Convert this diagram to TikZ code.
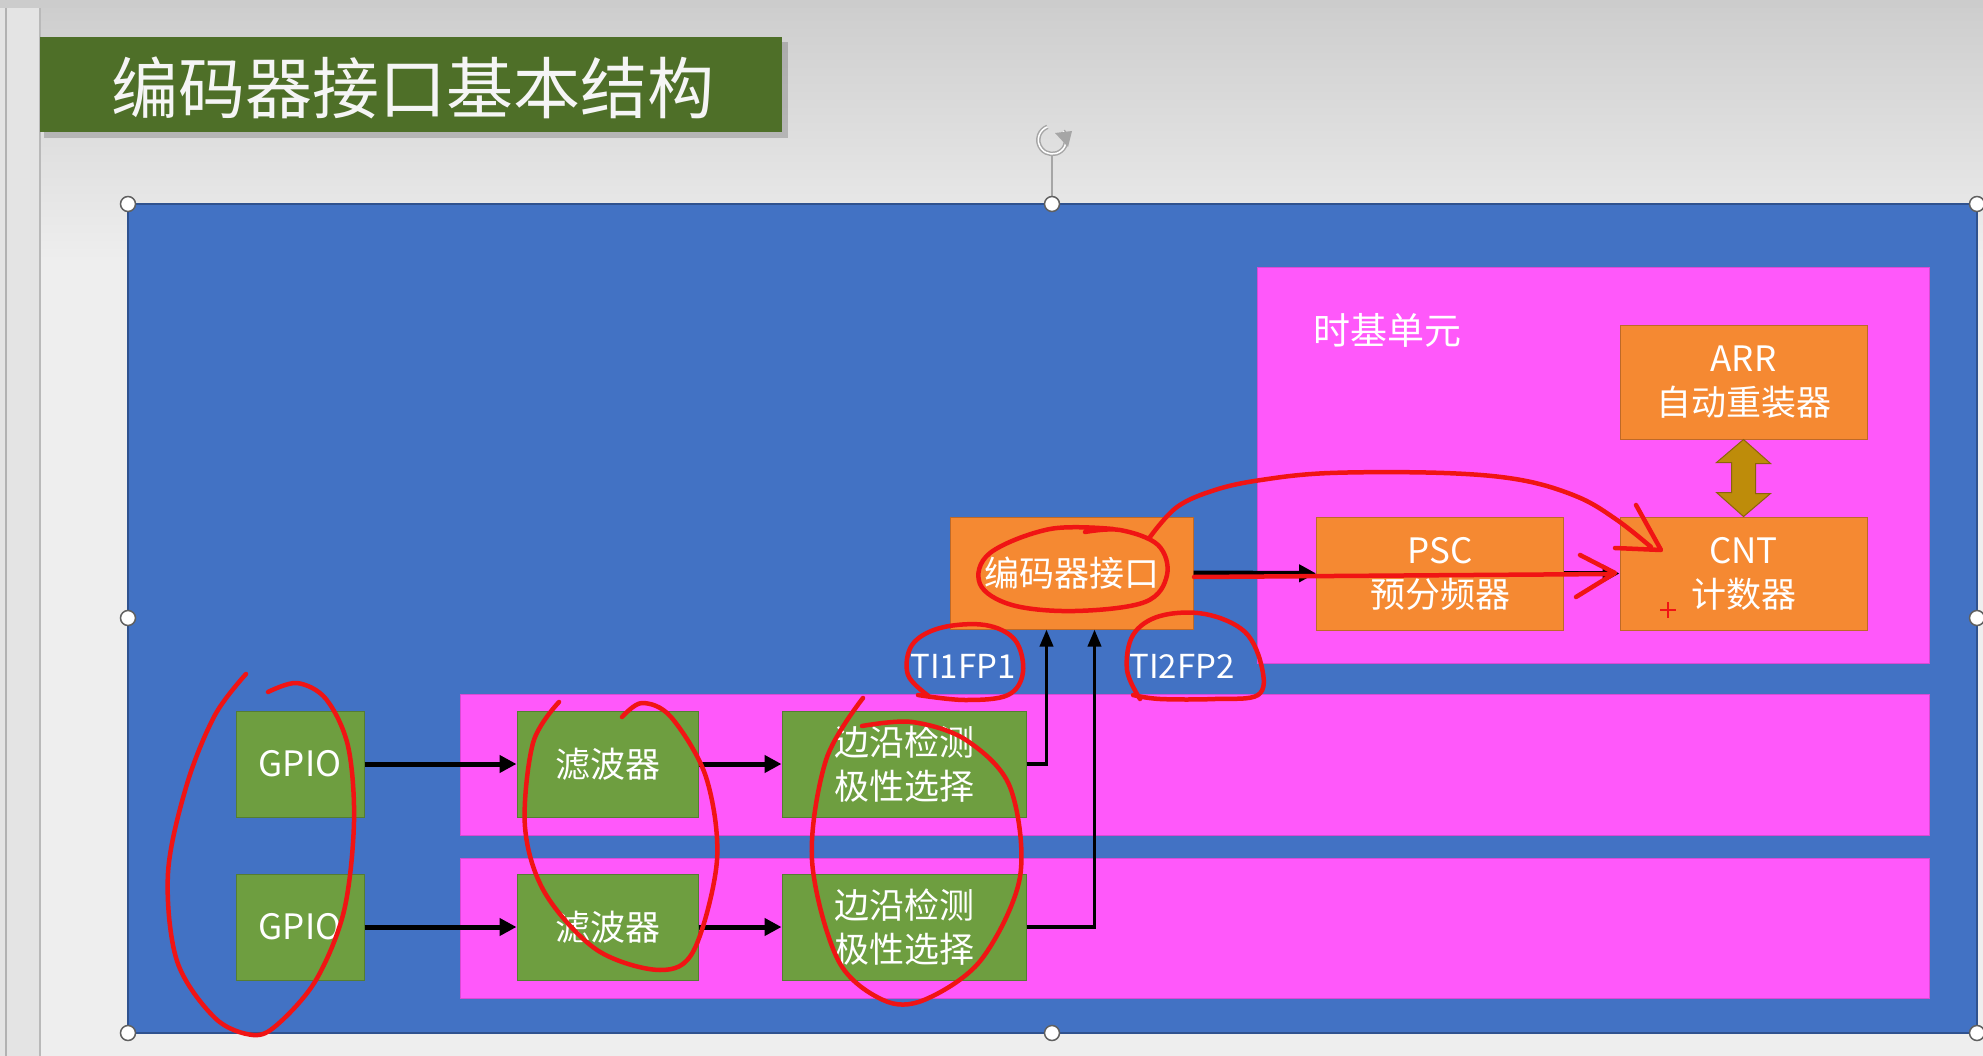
\documentclass[tikz,border=0pt]{standalone}
\usepackage{fontspec}
\setmainfont{Noto Sans CJK SC}
\usetikzlibrary{arrows.meta}
\definecolor{slideblue}{RGB}{66,114,196}
\definecolor{bluedge}{RGB}{47,82,143}
\definecolor{pinkc}{RGB}{255,88,250}
\definecolor{orangec}{RGB}{245,137,50}
\definecolor{orangeedge}{RGB}{190,105,40}
\definecolor{greenc}{RGB}{110,158,64}
\definecolor{greenedge}{RGB}{85,125,50}
\definecolor{titlegreen}{RGB}{78,111,40}
\definecolor{goldc}{RGB}{190,140,10}
\definecolor{goldedge}{RGB}{140,100,10}
\definecolor{inkred}{RGB}{240,20,20}
\definecolor{bgtop}{RGB}{206,206,206}
\definecolor{bgbot}{RGB}{238,238,238}
\definecolor{stripc}{RGB}{228,228,228}
\begin{document}
\begin{tikzpicture}[x=1pt,y=-1pt,
  boxtext/.style={text=white, align=center, inner sep=0pt, font=\fontsize{35}{44}\selectfont},
  greenbox/.style={boxtext, draw=greenedge, line width=1pt, fill=greenc},
  orangebox/.style={boxtext, draw=orangeedge, line width=1pt, fill=orangec},
  pinkbox/.style={fill=pinkc, draw=pinkc!85!black, line width=0.8pt, inner sep=0pt},
  arr/.style={draw=black, line width=5pt, -{Triangle[length=17pt,width=17pt]}},
  uparr/.style={draw=black, line width=3.5pt, -{Triangle[length=17pt,width=13pt]}},
  ink/.style={draw=inkred, line width=4.5pt, line cap=round, line join=round},
  handle/.style={circle, fill=white, draw=gray!75!black, line width=1.5pt, minimum size=15pt, inner sep=0pt},
  lbl/.style={text=white, inner sep=0pt, font=\fontsize{33}{36}\selectfont}
]
\useasboundingbox (0,0) rectangle (1983,1056);
% background window
\fill[bgbot] (0,0) rectangle (1983,1056);
\fill[stripc] (0,0) rectangle (40,1056);
\draw[gray!60, line width=1.2pt] (6,0) -- (6,1056);
\draw[gray!55, line width=1.2pt] (40,8) -- (40,1056);
\fill[gray!40] (0,0) rectangle (1983,8);
\shade[top color=bgtop, bottom color=bgbot] (41,9) rectangle (1983,260);
% title
\fill[black, opacity=0.18] (44,42) rectangle (788,138);
\node[fill=titlegreen, minimum width=742pt, minimum height=95pt, inner sep=0pt] (titlebox) at (411,84.5) {};
\node[text=white!92!gray, font=\fontsize{67}{72}\selectfont, inner sep=0pt] (title) at (413,88) {编码器接口基本结构};
% rotation handle
\draw[gray!70, line width=1.5pt] (1052,156) -- (1052,204);
\draw[gray!70, line width=4.5pt] (1063,131) arc[start angle=-40, end angle=250, radius=14];
\draw[white, line width=1.5pt] (1063,131) arc[start angle=-40, end angle=250, radius=14];
\fill[gray!70] (1055,133) -- (1072,131) -- (1068,147) -- cycle;
% main blue panel
\node[fill=slideblue, draw=bluedge, line width=1.5pt, minimum width=1849pt, minimum height=829pt, inner sep=0pt] (panel) at (1052.5,618.5) {};
% time base unit
\node[pinkbox, minimum width=672pt, minimum height=396pt] (timebase) at (1593,465) {};
\node[text=white, font=\fontsize{37}{40}\selectfont, inner sep=0pt, anchor=west] (tbl) at (1313,330) {时基单元};
\node[orangebox, minimum width=247pt, minimum height=113pt] (arrb) at (1743.5,382.5) {ARR\\自动重装器};
\node[orangebox, minimum width=247pt, minimum height=113pt] (cnt) at (1743.5,573.5) {CNT\\计数器};
\node[orangebox, minimum width=247pt, minimum height=113pt] (psc) at (1440,573.5) {PSC\\预分频器};
\node[orangebox, minimum width=243pt, minimum height=112pt] (enc) at (1071.5,573) {编码器接口};
% double arrow ARR <-> CNT
\filldraw[fill=goldc, draw=goldedge, line width=1pt] (arrb.south) -- ++(27,24) -- ++(-15,0) -- ++(0,30) -- ++(15,0) -- (cnt.north) -- ++(-27,-24) -- ++(15,0) -- ++(0,-30) -- ++(-15,0) -- cycle;
% input rows
\node[pinkbox, minimum width=1469pt, minimum height=141pt] (rowa) at (1194.5,764.5) {};
\node[pinkbox, minimum width=1469pt, minimum height=140pt] (rowb) at (1194.5,928) {};
\node[greenbox, minimum width=128pt, minimum height=106pt] (gpioa) at (300,764) {GPIO};
\node[greenbox, minimum width=128pt, minimum height=106pt] (gpiob) at (300,927) {GPIO};
\node[greenbox, minimum width=181pt, minimum height=106pt] (filta) at (607.5,764) {滤波器};
\node[greenbox, minimum width=181pt, minimum height=106pt] (filtb) at (607.5,927) {滤波器};
\node[greenbox, minimum width=244pt, minimum height=106pt] (edgea) at (904,764) {边沿检测\\极性选择};
\node[greenbox, minimum width=244pt, minimum height=106pt] (edgeb) at (904,927) {边沿检测\\极性选择};
\node[lbl] (ti1) at (963,666) {TI1FP1};
\node[lbl] (ti2) at (1182,666) {TI2FP2};
% connectors
\draw[arr] (gpioa) -- (filta);
\draw[arr] (gpiob) -- (filtb);
\draw[arr] (filta) -- (edgea);
\draw[arr] (filtb) -- (edgeb);
\draw[uparr] (edgea.east) -| ([xshift=97pt]enc.south west);
\draw[uparr] (edgeb.east) -| ([xshift=145pt]enc.south west);
\draw[arr] (enc) -- (psc);
\draw[arr] (psc) -- (cnt);
% selection handles
\foreach \hx/\hy/\hn in {128/204/ha,1052/204/hb,1977/204/hc,128/618/hd,1977/618/he,128/1033/hf,1052/1033/hg,1977/1033/hh}
  \node[handle] (\hn) at (\hx,\hy) {};
% red ink annotations
\draw[ink] plot[smooth, tension=0.6] coordinates {(1113,529) (1050,529) (990,553) (980,584) (1012,605) (1075,611) (1145,602) (1167,575) (1158,545) (1120,530) (1085,532)};
\draw[ink] plot[smooth, tension=0.6] coordinates {(1150,537) (1177,507) (1215,490) (1261,480) (1330,473) (1444,473) (1521,480) (1578,497) (1617,520) (1651,547)};
\draw[ink] (1636,505) -- (1661,550) -- (1615,548);
\draw[ink] (1194,577) -- (1613,574);
\draw[ink] (1580,555) -- (1615,573) -- (1576,597);
\draw[inkred, line width=2.5pt] (1660,610) -- (1676,610) (1668,602) -- (1668,618);
\draw[ink] plot[smooth, tension=0.6] coordinates {(930,697) (908,675) (912,645) (940,628) (985,625) (1015,640) (1023,672) (1008,695) (965,700) (918,695)};
\draw[ink] plot[smooth, tension=0.6] coordinates {(1140,699) (1127,670) (1133,635) (1160,616) (1205,614) (1245,632) (1262,668) (1258,695) (1215,699) (1160,699) (1133,695)};
\draw[ink] plot[smooth, tension=0.55] coordinates {(246,674) (215,715) (187,784) (168,873) (177,961) (215,1018) (253,1035) (278,1024) (316,980) (344,911) (354,822) (348,746) (326,699) (297,683) (268,692)};
\draw[ink] plot[smooth, tension=0.55] coordinates {(559,702) (533,743) (525,827) (545,893) (597,950) (660,970) (694,950) (717,860) (706,777) (671,717) (642,703) (622,717)};
\draw[ink] plot[smooth, tension=0.55] coordinates {(863,698) (826,760) (812,860) (838,960) (883,1000) (924,1000) (981,960) (1020,877) (1010,787) (966,740) (912,722) (862,726)};
\end{tikzpicture}
\end{document}
